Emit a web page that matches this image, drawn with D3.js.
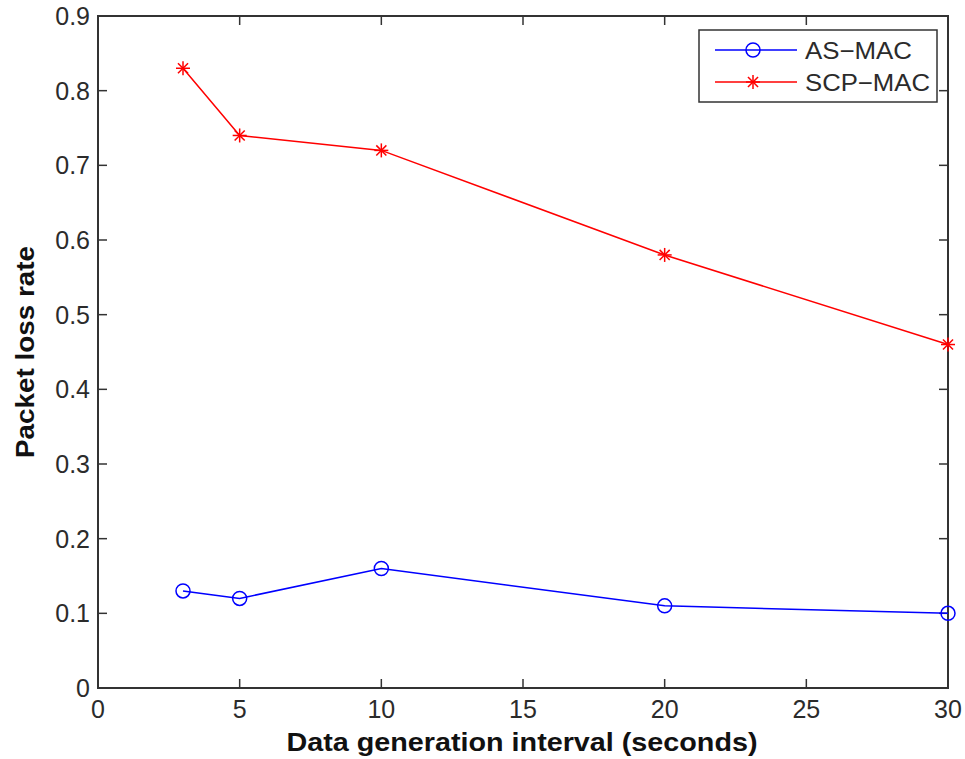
<!DOCTYPE html>
<html>
<head>
<meta charset="utf-8">
<script src="https://cdn.jsdelivr.net/npm/d3@7"></script>
<style>
  body { margin: 0; background: #fff; }
  text { font-family: "Liberation Sans", Arial, sans-serif; fill: #2b2b2b; }
</style>
</head>
<body>
<svg id="chart" width="965" height="759"></svg>
<script>
const intervals = [3, 5, 10, 20, 30];
const asMac = [0.13, 0.12, 0.16, 0.11, 0.10];
const scpMac = [0.83, 0.74, 0.72, 0.58, 0.46];
const xTicks = [0, 5, 10, 15, 20, 25, 30];
const yTicks = [0, 0.1, 0.2, 0.3, 0.4, 0.5, 0.6, 0.7, 0.8, 0.9];

const series = [
  { name: 'AS\u2212MAC', values: asMac, color: '#0000ff', marker: 'circle', labelLen: 107 },
  { name: 'SCP\u2212MAC', values: scpMac, color: '#ff0000', marker: 'star', labelLen: 125 },
];

const box = { left: 98, right: 948, top: 16, bottom: 688 };
const svg = d3.select('#chart');

const x = d3.scaleLinear().domain([0, 30]).range([box.left, box.right]);
const y = d3.scaleLinear().domain([0, 0.9]).range([box.bottom, box.top]);

const axisColor = '#333';
const tickLen = 9;

// ticks (inward, mirrored on top/right)
const grid = svg.append('g').attr('stroke', axisColor).attr('stroke-width', 1.5);
xTicks.forEach((t) => {
  grid.append('line').attr('x1', x(t)).attr('x2', x(t)).attr('y1', box.bottom).attr('y2', box.bottom - tickLen);
  grid.append('line').attr('x1', x(t)).attr('x2', x(t)).attr('y1', box.top).attr('y2', box.top + tickLen);
});
yTicks.forEach((t) => {
  grid.append('line').attr('x1', box.left).attr('x2', box.left + tickLen).attr('y1', y(t)).attr('y2', y(t));
  grid.append('line').attr('x1', box.right).attr('x2', box.right - tickLen).attr('y1', y(t)).attr('y2', y(t));
});

svg.append('rect')
  .attr('x', box.left).attr('y', box.top)
  .attr('width', box.right - box.left).attr('height', box.bottom - box.top)
  .attr('fill', 'none').attr('stroke', axisColor).attr('stroke-width', 2);

// tick labels
svg.append('g').selectAll('text').data(xTicks).join('text')
  .attr('x', (d) => x(d)).attr('y', box.bottom + 30)
  .attr('text-anchor', 'middle').attr('font-size', 25)
  .text((d) => d);

svg.append('g').selectAll('text').data(yTicks).join('text')
  .attr('x', box.left - 8).attr('y', (d) => y(d)).attr('dy', '0.36em')
  .attr('text-anchor', 'end').attr('font-size', 25)
  .text((d) => (d === 0 ? '0' : d3.format('.1f')(d)));

// axis titles
svg.append('text')
  .attr('x', 522).attr('y', 751)
  .attr('text-anchor', 'middle').attr('font-size', 26).attr('font-weight', 'bold')
  .attr('textLength', 471).attr('lengthAdjust', 'spacingAndGlyphs')
  .style('fill', '#111')
  .text('Data generation interval (seconds)');

svg.append('text')
  .attr('transform', `translate(34,${(box.top + box.bottom) / 2}) rotate(-90)`)
  .attr('text-anchor', 'middle').attr('font-size', 26).attr('font-weight', 'bold')
  .attr('textLength', 212).attr('lengthAdjust', 'spacingAndGlyphs')
  .style('fill', '#111')
  .text('Packet loss rate');

// markers
function drawMarker(g, type, cx, cy, color) {
  if (type === 'circle') {
    g.append('circle').attr('cx', cx).attr('cy', cy).attr('r', 7)
      .attr('fill', 'none').attr('stroke', color).attr('stroke-width', 1.5);
  } else {
    const r = 7, d = r * 0.72;
    const segs = [[-r, 0, r, 0], [0, -r, 0, r], [-d, -d, d, d], [-d, d, d, -d]];
    segs.forEach((s) => {
      g.append('line')
        .attr('x1', cx + s[0]).attr('y1', cy + s[1]).attr('x2', cx + s[2]).attr('y2', cy + s[3])
        .attr('stroke', color).attr('stroke-width', 1.5);
    });
  }
}

const line = d3.line().x((d) => x(d[0])).y((d) => y(d[1]));

series.forEach((s) => {
  const pts = intervals.map((v, i) => [v, s.values[i]]);
  const g = svg.append('g');
  g.append('path').attr('d', line(pts))
    .attr('fill', 'none').attr('stroke', s.color).attr('stroke-width', 1.5);
  pts.forEach((p) => drawMarker(g, s.marker, x(p[0]), y(p[1]), s.color));
});

// legend
const legend = svg.append('g');
legend.append('rect')
  .attr('x', 699).attr('y', 30).attr('width', 238).attr('height', 72)
  .attr('fill', '#fff').attr('stroke', axisColor).attr('stroke-width', 1.5);

series.forEach((s, i) => {
  const ly = 50 + i * 32;
  legend.append('line').attr('x1', 715).attr('x2', 797).attr('y1', ly).attr('y2', ly)
    .attr('stroke', s.color).attr('stroke-width', 1.5);
  drawMarker(legend, s.marker, 753, ly, s.color);
  legend.append('text')
    .attr('x', 805).attr('y', ly).attr('dy', '0.36em')
    .attr('font-size', 24)
    .attr('textLength', s.labelLen).attr('lengthAdjust', 'spacingAndGlyphs')
    .text(s.name);
});
</script>
</body>
</html>
